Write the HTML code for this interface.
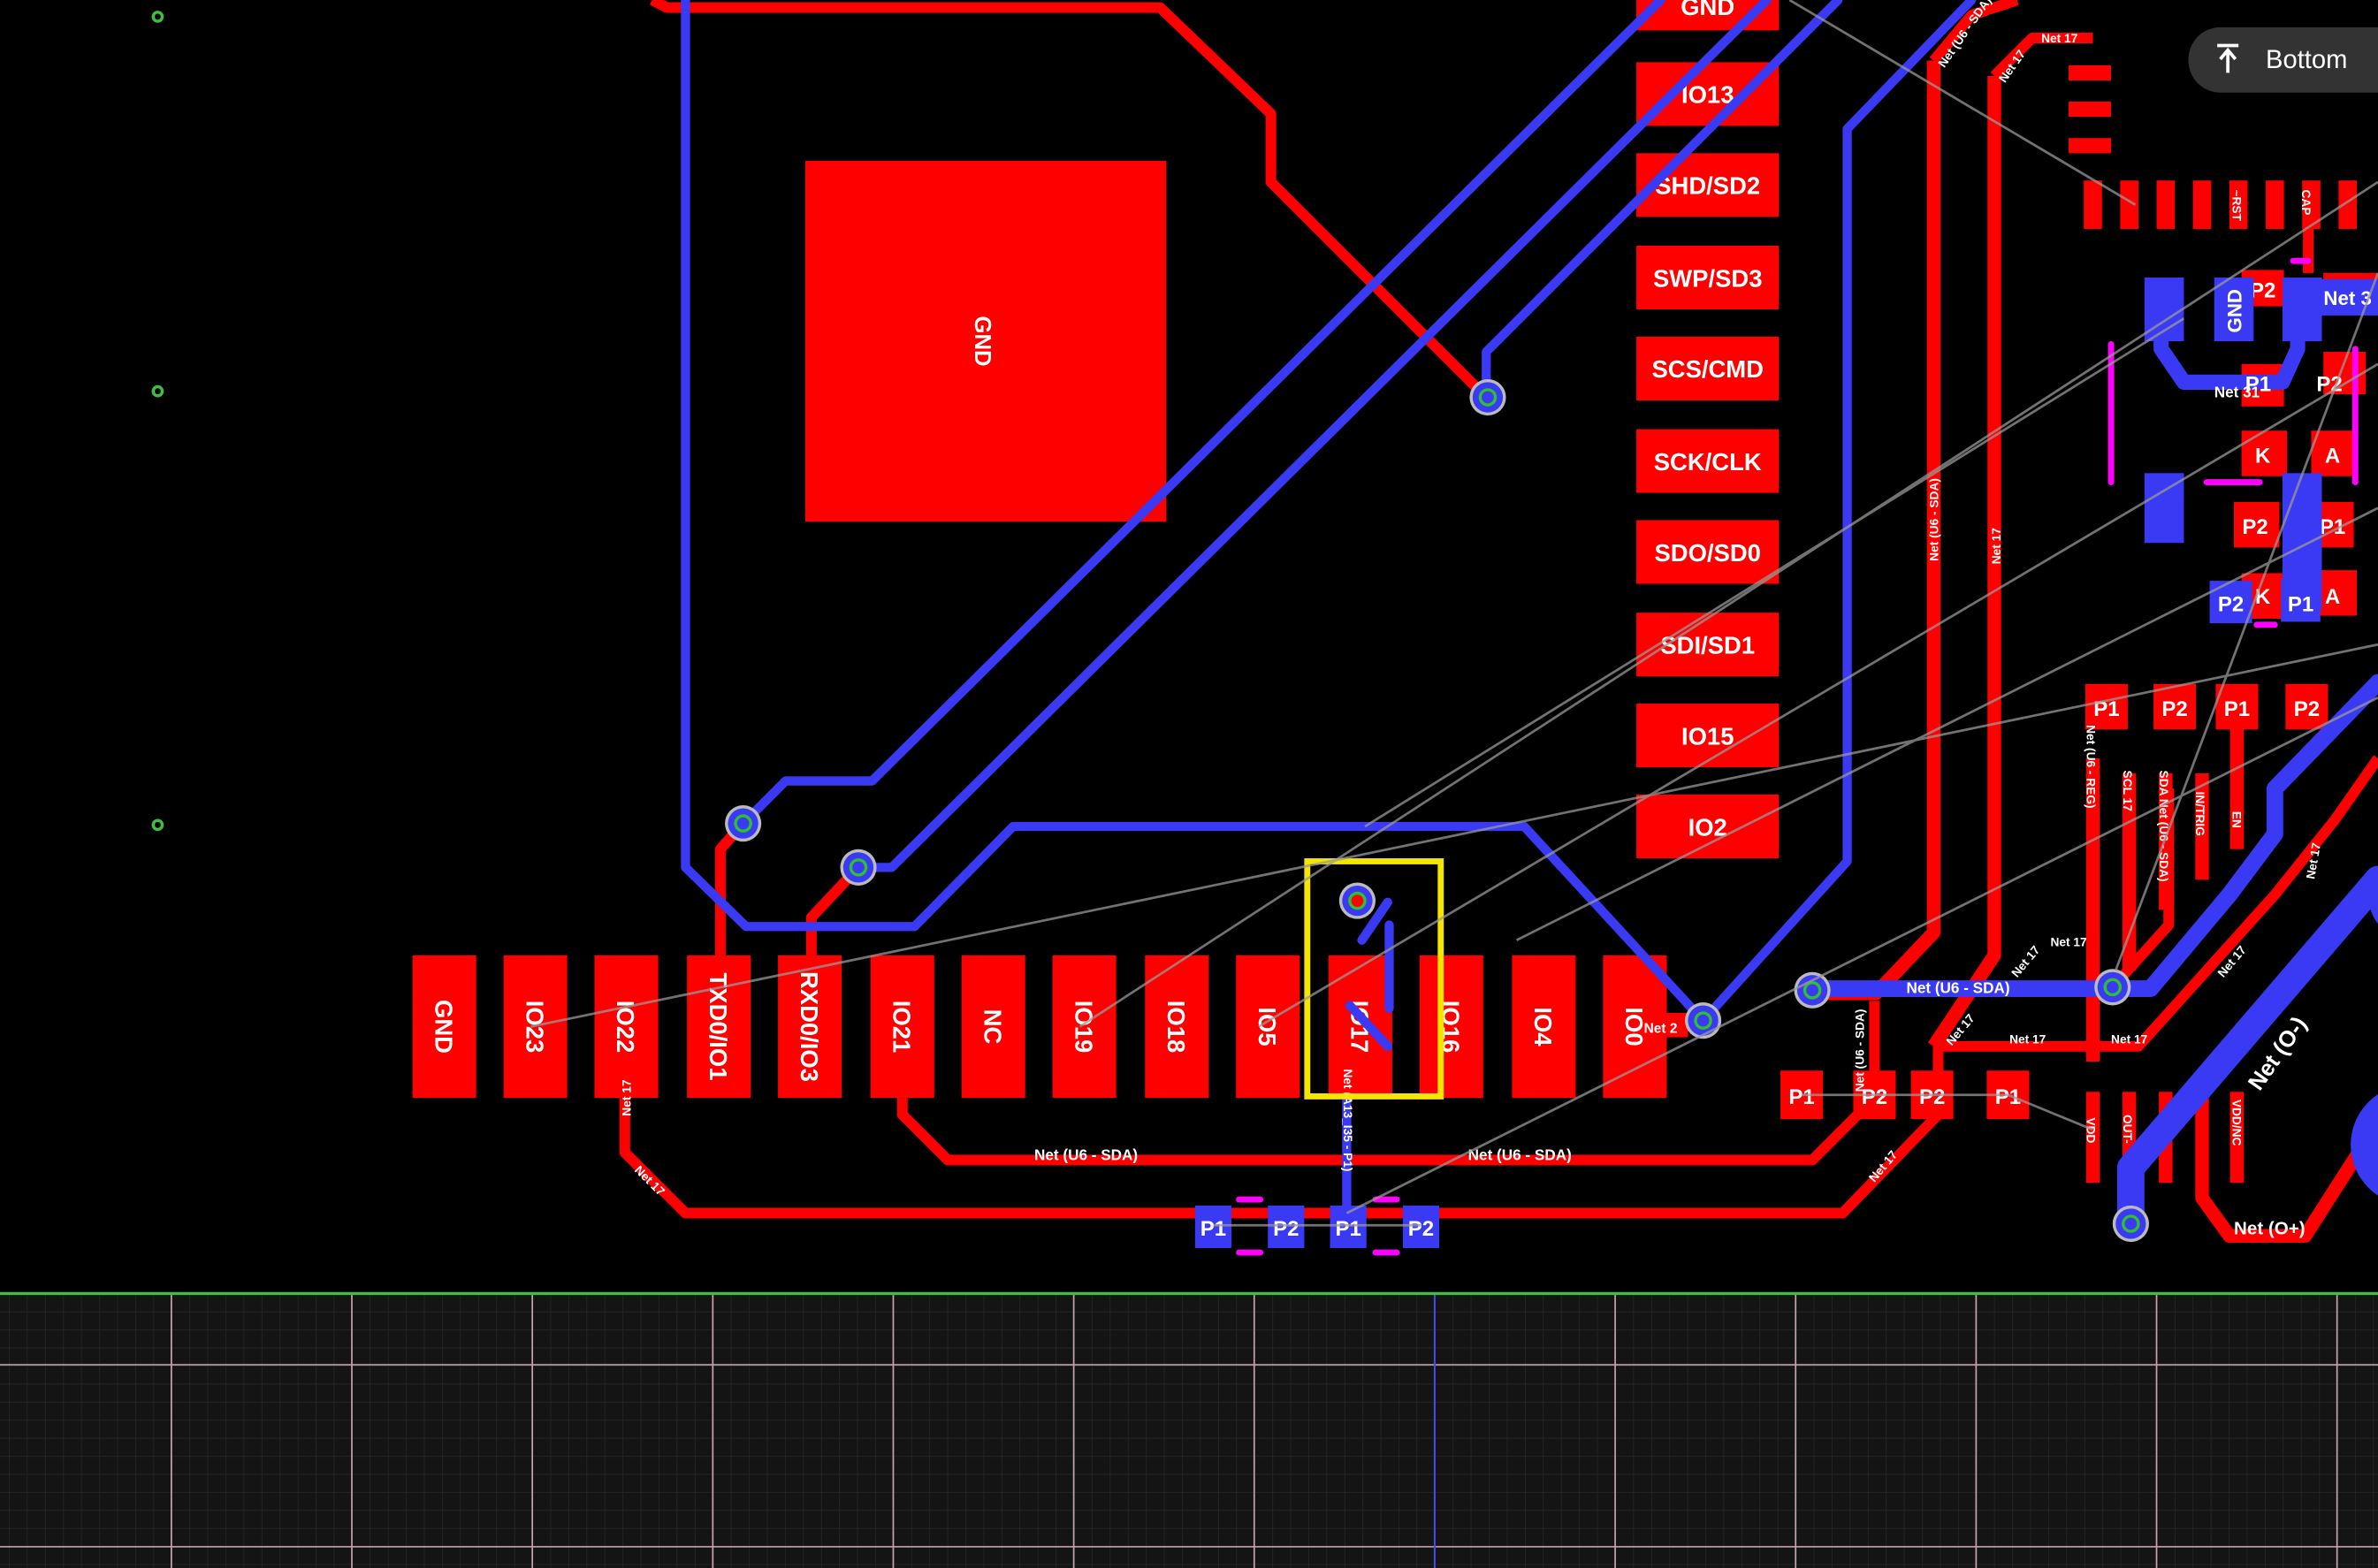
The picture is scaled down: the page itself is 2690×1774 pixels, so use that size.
<!DOCTYPE html>
<html><head><meta charset="utf-8"><style>
html,body{margin:0;padding:0;background:#000;}
svg{display:block}
text{font-family:"Liberation Sans",sans-serif;font-weight:bold;fill:#fff}
</style></head><body>
<svg width="2690" height="1774" viewBox="0 0 1568 1034" xmlns="http://www.w3.org/2000/svg">
<defs>
<pattern id="mg" width="11.9" height="11.9" patternUnits="userSpaceOnUse" x="113" y="853">
<path d="M0 0H11.9M0 0V11.9" stroke="#2a2a2a" stroke-width="0.8" fill="none"/>
</pattern>
</defs>
<rect width="1568" height="1034" fill="#000"/>
<rect x="0" y="853" width="1568" height="181" fill="#141414"/>
<rect x="0" y="853" width="1568" height="181" fill="url(#mg)"/>
<g stroke="#c4a2b0" stroke-width="1">
<line x1="0" y1="900" x2="1568" y2="900"/><line x1="0" y1="1020" x2="1568" y2="1020"/>
<line x1="113" y1="853" x2="113" y2="1034"/><line x1="232" y1="853" x2="232" y2="1034"/><line x1="351" y1="853" x2="351" y2="1034"/><line x1="470" y1="853" x2="470" y2="1034"/><line x1="589" y1="853" x2="589" y2="1034"/><line x1="708" y1="853" x2="708" y2="1034"/><line x1="827" y1="853" x2="827" y2="1034"/><line x1="1065" y1="853" x2="1065" y2="1034"/><line x1="1184" y1="853" x2="1184" y2="1034"/><line x1="1303" y1="853" x2="1303" y2="1034"/><line x1="1422" y1="853" x2="1422" y2="1034"/><line x1="1541" y1="853" x2="1541" y2="1034"/>
</g>
<line x1="946" y1="853" x2="946" y2="1034" stroke="#4a4ae0" stroke-width="1.2"/>
<line x1="0" y1="853" x2="1568" y2="853" stroke="#3fbf3f" stroke-width="2"/>
<g fill="none" stroke="#3fbf3f" stroke-width="2"><circle cx="104" cy="11" r="3"/><circle cx="104" cy="258" r="3"/><circle cx="104" cy="544" r="3"/></g>

<g fill="none" stroke="#ff0000" stroke-width="7" stroke-linejoin="round">
<polyline points="430,0 440,5 765,5 838,75 838,120 980,262"/>
<polyline points="475,630 475,560 490,543"/>
<polyline points="535,630 535,605 566,572"/>
<polyline points="412,724 412,760 452,800 1215,800 1278,735 1278,690 1410,690 1500,590 1540,540 1568,500"/>
<polyline points="595,724 595,735 625,765 1195,765 1235,725"/>
<polyline points="1275,40 1275,615 1237,655 1195,655" stroke-width="9"/>
<polyline points="1315,50 1315,630 1275,690" stroke-width="9"/>
<polyline points="1275,40 1300,10 1330,0"/>
<polyline points="1315,50 1340,25 1380,25"/>
<polyline points="1393,651 1430,610 1430,520"/>
<polyline points="1380,700 1380,500" stroke-width="9"/>
<polyline points="1404,640 1404,510" stroke-width="9"/><polyline points="1428,600 1428,510" stroke-width="9"/><polyline points="1452,580 1452,510" stroke-width="9"/><polyline points="1475,560 1475,480" stroke-width="9"/>
<polyline points="1380,720 1380,780" stroke-width="9"/><polyline points="1404,720 1404,780" stroke-width="9"/><polyline points="1428,720 1428,780" stroke-width="9"/><polyline points="1452,720 1452,790 1470,815 1520,815 1568,740" stroke-width="9"/><polyline points="1475,720 1475,780" stroke-width="9"/>
<polyline points="1236,722 1236,660"/>
<polyline points="1522,120 1522,180"/>
</g>
<rect x="531" y="106" width="238" height="238" fill="#ff0000"/>
<text transform="translate(643,225) rotate(90)" font-size="15" text-anchor="middle">GND</text>

<g fill="#ff0000">
<rect x="1079" y="-20" width="94" height="40"/><rect x="1079" y="41" width="94" height="42"/><rect x="1079" y="101" width="94" height="42"/><rect x="1079" y="162" width="94" height="42"/><rect x="1079" y="222" width="94" height="42"/><rect x="1079" y="283" width="94" height="42"/><rect x="1079" y="343" width="94" height="42"/><rect x="1079" y="404" width="94" height="42"/><rect x="1079" y="464" width="94" height="42"/><rect x="1079" y="524" width="94" height="42"/>
</g>
<g font-size="16" text-anchor="middle">
<text x="1126" y="10">GND</text><text x="1126" y="68">IO13</text><text x="1126" y="128">SHD/SD2</text><text x="1126" y="189">SWP/SD3</text><text x="1126" y="249">SCS/CMD</text><text x="1126" y="310">SCK/CLK</text><text x="1126" y="370">SDO/SD0</text><text x="1126" y="431">SDI/SD1</text><text x="1126" y="491">IO15</text><text x="1126" y="551">IO2</text>
</g>
<g fill="#ff0000">
<rect x="272" y="630" width="42" height="94"/><rect x="332" y="630" width="42" height="94"/><rect x="392" y="630" width="42" height="94"/><rect x="453" y="630" width="42" height="94"/><rect x="513" y="630" width="42" height="94"/><rect x="574" y="630" width="42" height="94"/><rect x="634" y="630" width="42" height="94"/><rect x="694" y="630" width="42" height="94"/><rect x="755" y="630" width="42" height="94"/><rect x="815" y="630" width="42" height="94"/><rect x="876" y="630" width="42" height="94"/><rect x="936" y="630" width="42" height="94"/><rect x="997" y="630" width="42" height="94"/><rect x="1057" y="630" width="42" height="94"/>
</g>
<g font-size="16" text-anchor="middle">
<text transform="translate(287,677) rotate(90)">GND</text><text transform="translate(347,677) rotate(90)">IO23</text><text transform="translate(407,677) rotate(90)">IO22</text><text transform="translate(468,677) rotate(90)">TXD0/IO1</text><text transform="translate(528,677) rotate(90)">RXD0/IO3</text><text transform="translate(589,677) rotate(90)">IO21</text><text transform="translate(649,677) rotate(90)">NC</text><text transform="translate(709,677) rotate(90)">IO19</text><text transform="translate(770,677) rotate(90)">IO18</text><text transform="translate(830,677) rotate(90)">IO5</text><text transform="translate(891,677) rotate(90)">IO17</text><text transform="translate(951,677) rotate(90)">IO16</text><text transform="translate(1012,677) rotate(90)">IO4</text><text transform="translate(1072,677) rotate(90)">IO0</text>
</g>
<rect x="1099" y="668" width="14" height="16" fill="#ff0000"/>
<text x="1084" y="681" font-size="9">Net 2</text>

<g fill="#ff0000">
<rect x="1364" y="43" width="28" height="10"/><rect x="1364" y="67" width="28" height="10"/><rect x="1364" y="91" width="28" height="10"/>
<rect x="1374" y="119" width="12" height="32"/><rect x="1398" y="119" width="12" height="32"/><rect x="1422" y="119" width="12" height="32"/><rect x="1446" y="119" width="12" height="32"/><rect x="1470" y="119" width="12" height="32"/><rect x="1494" y="119" width="12" height="32"/><rect x="1518" y="119" width="12" height="32"/><rect x="1542" y="119" width="12" height="32"/>
<rect x="1478" y="178" width="28" height="24"/><rect x="1532" y="180" width="36" height="24"/>
<rect x="1532" y="232" width="28" height="28"/><rect x="1478" y="240" width="28" height="28"/>
<rect x="1478" y="284" width="30" height="30"/><rect x="1524" y="284" width="30" height="30"/>
<rect x="1473" y="331" width="30" height="30"/><rect x="1524" y="331" width="28" height="30"/>
<rect x="1478" y="378" width="30" height="30"/><rect x="1524" y="376" width="30" height="30"/>
<rect x="1375" y="451" width="28" height="30"/><rect x="1420" y="451" width="28" height="30"/><rect x="1461" y="451" width="28" height="30"/><rect x="1507" y="451" width="28" height="30"/>
<rect x="1174" y="706" width="28" height="32"/><rect x="1222" y="706" width="28" height="32"/><rect x="1260" y="706" width="28" height="32"/><rect x="1310" y="706" width="28" height="32"/>
</g>
<g font-size="14" text-anchor="middle">
<text x="1492" y="196">P2</text><text x="1536" y="258">P2</text><text x="1492" y="305">K</text><text x="1538" y="305">A</text><text x="1487" y="352">P2</text><text x="1538" y="352">P1</text><text x="1538" y="398">A</text>
<text x="1389" y="472">P1</text><text x="1434" y="472">P2</text><text x="1475" y="472">P1</text><text x="1521" y="472">P2</text>
<text x="1188" y="728">P1</text><text x="1236" y="728">P2</text><text x="1274" y="728">P2</text><text x="1324" y="728">P1</text>
</g>
<g font-size="8">
<text transform="translate(1472,125) rotate(90)">~RST</text><text transform="translate(1518,125) rotate(90)">CAP</text>
<text transform="translate(1376,478) rotate(90)">Net (U6 - REG)</text><text transform="translate(1400,508) rotate(90)">SCL 17</text><text transform="translate(1424,508) rotate(90)">SDA Net (U6 - SDA)</text><text transform="translate(1448,522) rotate(90)">IN/TRIG</text><text transform="translate(1472,535) rotate(90)">EN</text>
<text transform="translate(1376,737) rotate(90)">VDD</text><text transform="translate(1400,735) rotate(90)">OUT-</text><text transform="translate(1472,725) rotate(90)">VDD/NC</text>
<text transform="translate(1278,370) rotate(-90)">Net (U6 - SDA)</text><text transform="translate(1319,372) rotate(-90)">Net 17</text>
<text transform="translate(1282,45) rotate(-55)">Net (U6 - SDA)</text><text transform="translate(1322,55) rotate(-55)">Net 17</text><text x="1346" y="28">Net 17</text>
<text x="1325" y="688">Net 17</text><text x="1392" y="688">Net 17</text>
<text transform="translate(416,736) rotate(-90)">Net 17</text><text transform="translate(418,772) rotate(45)">Net 17</text>
<text transform="translate(1236,780) rotate(-50)">Net 17</text><text transform="translate(1287,690) rotate(-50)">Net 17</text><text transform="translate(1330,645) rotate(-50)">Net 17</text><text x="1352" y="624">Net 17</text>
<text transform="translate(1466,645) rotate(-50)">Net 17</text><text transform="translate(1526,580) rotate(-80)">Net 17</text>
<text transform="translate(1229,720) rotate(-90)">Net (U6 - SDA)</text>
<text x="682" y="765" font-size="10">Net (U6 - SDA)</text><text x="968" y="765" font-size="10">Net (U6 - SDA)</text>
<text x="1473" y="814" font-size="12">Net (O+)</text>
</g>

<g fill="none" stroke="#3a3af5" stroke-width="6" stroke-linejoin="round" stroke-linecap="round">
<polyline points="452,0 452,572 492,611 603,611 668,545 1005,545 1123,673 1218,568 1218,85 1300,0"/>
<polyline points="490,543 518,515 575,515 1095,0"/>
<polyline points="566,572 588,572 1165,0"/>
<polyline points="980,262 980,232 1212,0"/>
<polyline points="1195,652 1393,652" stroke-width="11"/>
<polyline points="1393,652 1418,652 1470,590 1500,550 1500,520 1568,450" stroke-width="11"/>
<polyline points="888,725 888,800"/>
<polyline points="898,620 915,595"/><polyline points="916,610 916,665"/><polyline points="890,663 915,690"/>
<polyline points="1425,200 1425,230 1440,252 1505,252 1515,230 1515,200" stroke-width="10"/>
<polyline points="1405,807 1405,770 1568,580" stroke-width="18"/>
</g>
<text x="1257" y="655" font-size="10">Net (U6 - SDA)</text>
<text x="1460" y="262" font-size="10">Net 31</text>
<text transform="translate(1490,720) rotate(-55)" font-size="15">Net (O-)</text>
<text transform="translate(886,705) rotate(90)" font-size="8">Net (A13_I35 - P1)</text>
<g fill="#3a3af5">
<rect x="1414" y="183" width="26" height="42"/><rect x="1460" y="183" width="26" height="42"/><rect x="1505" y="183" width="26" height="42"/><rect x="1525" y="184" width="43" height="24"/>
<rect x="1414" y="312" width="26" height="46"/><rect x="1505" y="312" width="26" height="90"/>
<rect x="1457" y="383" width="28" height="28"/><rect x="1504" y="382" width="26" height="28"/>
<rect x="788" y="795" width="24" height="28"/><rect x="836" y="795" width="24" height="28"/><rect x="877" y="795" width="24" height="28"/><rect x="925" y="795" width="24" height="28"/>
</g>
<g font-size="14" text-anchor="middle">
<text transform="translate(1478,205) rotate(-90)" font-size="13">GND</text><text x="1471" y="403">P2</text><text x="1517" y="403">P1</text><text x="1492" y="398">K</text><text x="1489" y="258">P1</text>
<text x="800" y="815">P1</text><text x="848" y="815">P2</text><text x="889" y="815">P1</text><text x="937" y="815">P2</text>
<text x="1548" y="201" font-size="13">Net 3</text>
</g>
<g stroke="#ff00ff" stroke-width="4" stroke-linecap="round" fill="none">
<line x1="1392" y1="227" x2="1392" y2="318"/><line x1="1553" y1="230" x2="1553" y2="318"/><line x1="1455" y1="318" x2="1490" y2="318"/>
<line x1="1512" y1="172" x2="1522" y2="172"/><line x1="1488" y1="412" x2="1500" y2="412"/>
<line x1="817" y1="791" x2="831" y2="791"/><line x1="817" y1="826" x2="831" y2="826"/><line x1="907" y1="791" x2="921" y2="791"/><line x1="907" y1="826" x2="921" y2="826"/>
</g>
<g>
<g transform="translate(981,262)"><circle r="12" fill="#bbb"/><circle r="10" fill="#3a3af5"/><circle r="6" fill="#2fbf2f"/><circle r="4" fill="#3a3af5"/></g>
<g transform="translate(490,543)"><circle r="12" fill="#bbb"/><circle r="10" fill="#3a3af5"/><circle r="6" fill="#2fbf2f"/><circle r="4" fill="#3a3af5"/></g>
<g transform="translate(566,572)"><circle r="12" fill="#bbb"/><circle r="10" fill="#3a3af5"/><circle r="6" fill="#2fbf2f"/><circle r="4" fill="#3a3af5"/></g>
<g transform="translate(1123,673)"><circle r="12" fill="#bbb"/><circle r="10" fill="#3a3af5"/><circle r="6" fill="#2fbf2f"/><circle r="4" fill="#3a3af5"/></g>
<g transform="translate(1195,653)"><circle r="12" fill="#bbb"/><circle r="10" fill="#3a3af5"/><circle r="6" fill="#2fbf2f"/><circle r="4" fill="#3a3af5"/></g>
<g transform="translate(1393,651)"><circle r="12" fill="#bbb"/><circle r="10" fill="#3a3af5"/><circle r="6" fill="#2fbf2f"/><circle r="4" fill="#3a3af5"/></g>
<g transform="translate(1405,807)"><circle r="12" fill="#bbb"/><circle r="10" fill="#3a3af5"/><circle r="6" fill="#2fbf2f"/><circle r="4" fill="#3a3af5"/></g>
<g transform="translate(895,594)"><circle r="12" fill="#bbb"/><circle r="10" fill="#3a3af5"/><circle r="6" fill="#2fbf2f"/><circle r="4" fill="#ff0000"/></g>
</g>
<circle cx="1590" cy="592" r="28" fill="#3a3af5"/><circle cx="1590" cy="755" r="40" fill="#3a3af5"/>
<rect x="862" y="568" width="88" height="155" fill="none" stroke="#f5e600" stroke-width="4"/>
<g stroke="#999" stroke-width="1.6" opacity="0.75">
<line x1="350" y1="677" x2="1568" y2="425"/>
<line x1="712" y1="677" x2="1568" y2="120"/>
<line x1="830" y1="677" x2="1568" y2="240"/>
<line x1="888" y1="800" x2="1568" y2="460"/>
<line x1="800" y1="808" x2="937" y2="808"/>
<line x1="1188" y1="722" x2="1324" y2="722"/><line x1="1324" y1="722" x2="1380" y2="745"/>
<line x1="1180" y1="0" x2="1408" y2="135"/>
<line x1="1395" y1="640" x2="1568" y2="180"/>
<line x1="900" y1="545" x2="1440" y2="210"/>
<line x1="1000" y1="620" x2="1568" y2="335"/>
</g>
<rect x="1443" y="18" width="150" height="43" rx="21" fill="#333"/>
<path d="M1462 30H1476M1469 48V34M1464 39L1469 33L1474 39" stroke="#fff" stroke-width="2.2" fill="none"/>
<text x="1494" y="45" font-size="17" style="font-weight:normal">Bottom</text>
</svg>
</body></html>
